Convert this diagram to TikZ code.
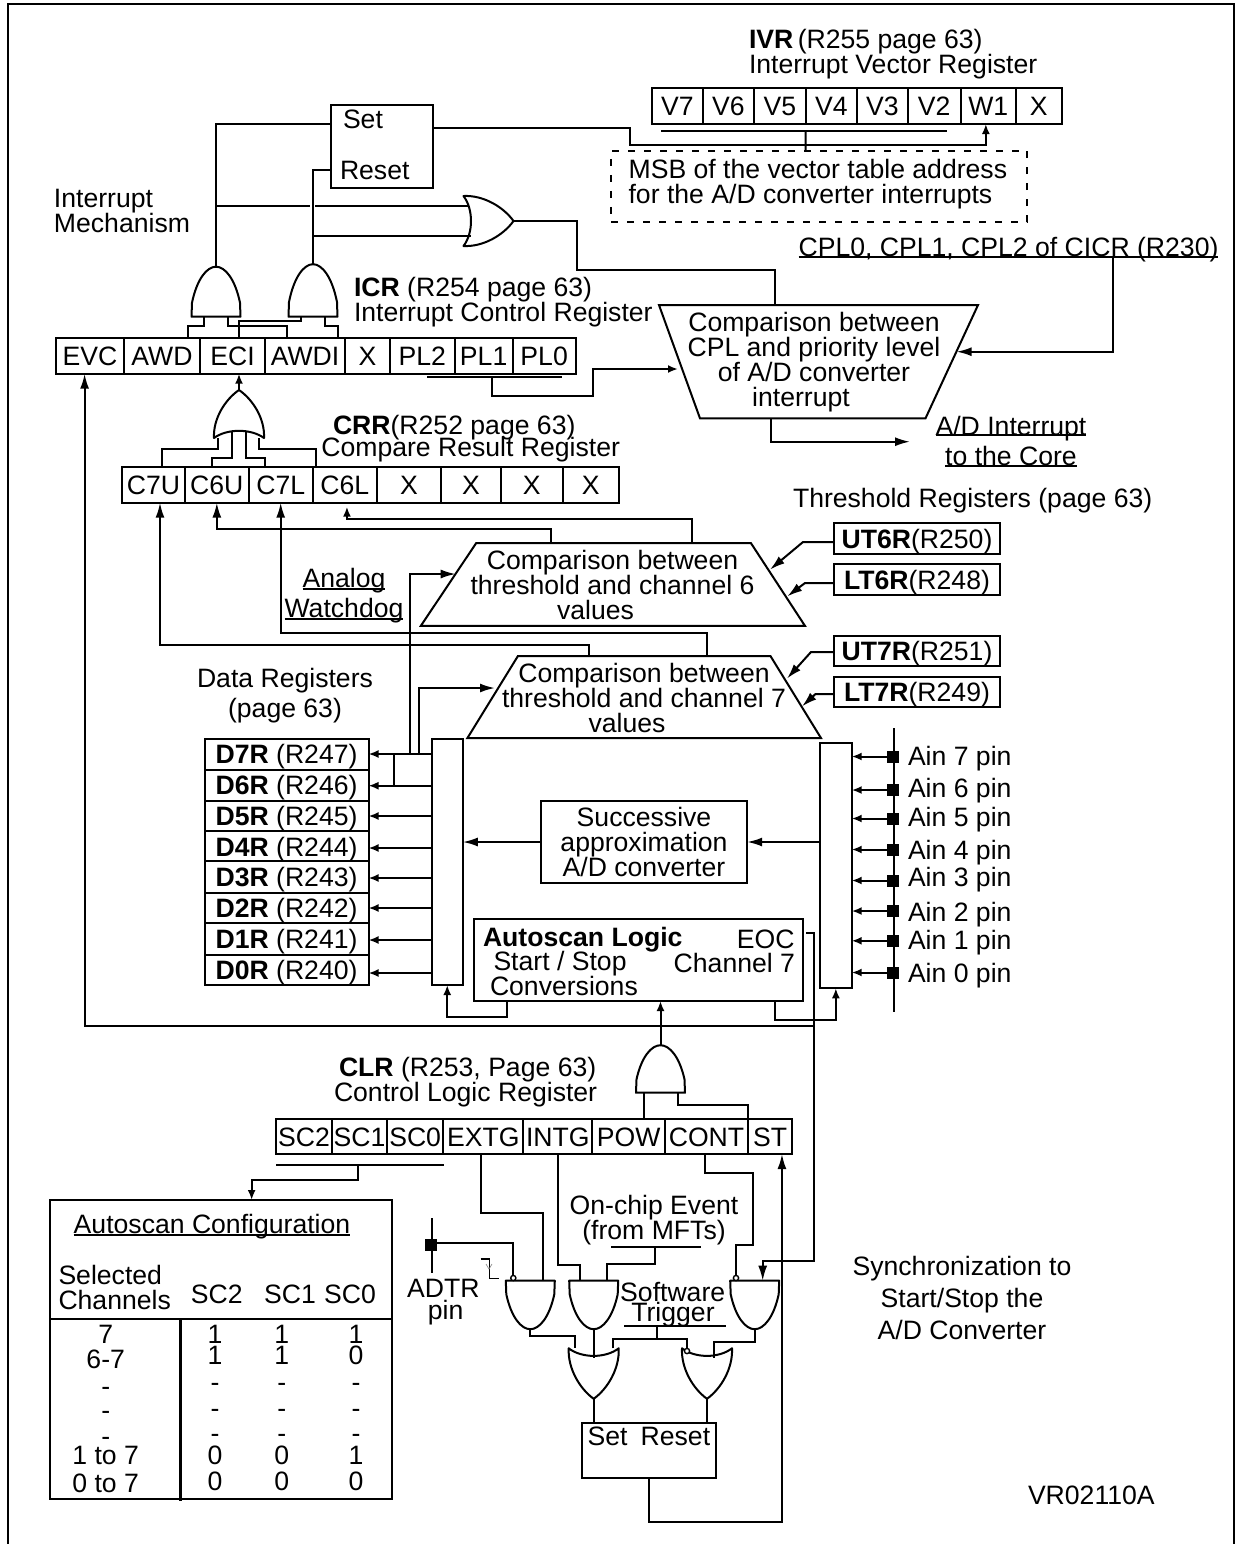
\documentclass[tikz,border=0pt]{standalone}
\usepackage{fontspec}
\setmainfont{Liberation Sans}
\usetikzlibrary{arrows.meta,positioning,calc}
\tikzset{
  wire/.style={draw,line width=1pt},
  ar/.style={wire,-{Latex[length=7.5pt,width=4.5pt]}},
  ars/.style={wire,-{Latex[length=5pt,width=4pt]}},
  lbl/.style={inner sep=0,outer sep=0,text height=9.6pt,text depth=0pt},
  mlbl/.style={inner sep=0,outer sep=0,align=left},
  regcell/.style={draw,line width=1pt,inner sep=0,outer sep=0,minimum height=18pt,text height=9.6pt,text depth=0pt},
  plainbox/.style={draw,line width=1pt,inner sep=0,outer sep=0},
  cmpbox/.style={inner sep=0,outer sep=0},
  pinsq/.style={fill=black,inner sep=0,outer sep=0,minimum size=6pt},
  bubble/.style={circle,draw,line width=.7pt,fill=white,inner sep=0,outer sep=0,minimum size=2.6pt},
  gateline/.style={line width=1pt,line join=round},
  pics/andgate/.style={code={
    \draw[gateline] (-24.5,0) -- (-24,-14) .. controls (-19,-38) and (-9,-50) .. (0,-50)
      .. controls (9,-50) and (19,-38) .. (24,-14) -- (24.5,0) -- cycle;
    \coordinate (-top) at (0,-50); \coordinate (-base) at (0,0);
    \coordinate (-l) at (-12,0); \coordinate (-r) at (12,0);}},
  pics/orgate/.style={code={
    \draw[gateline] (-25,0) .. controls (-12,-10) and (12,-10) .. (25,0)
      .. controls (26,-20) and (14,-40) .. (0,-50)
      .. controls (-14,-40) and (-26,-20) .. (-25,0) -- cycle;
    \coordinate (-top) at (0,-50); \coordinate (-base) at (0,0);}},
}
\begin{document}
\begin{tikzpicture}[x=0.5pt,y=-0.5pt,font=\fontsize{13.3}{12.5}\selectfont]
  \useasboundingbox (0,0) rectangle (1239,1544);
  \draw[line width=1.3pt] (8,1544) -- (8,4) -- (1234,4) -- (1234,1544);
  % registers
  \foreach \n/\t/\xa/\xb in {evc/EVC/55.8/124,awd/AWD/124/200,eci/ECI/200/265,awdi/AWDI/265/345,icrx/X/345/390,pl2/PL2/390/454.6,pl1/PL1/454.6/512.7,pl0/PL0/512.7/575.6}{
    \node[regcell,minimum width={(\xb-\xa)*0.5pt}](\n) at ({(\xa+\xb)/2},355.7){\t};}
  \foreach \n/\t/\xa/\xb in {v7/V7/652/703,v6/V6/703/754,v5/V5/754/806,v4/V4/806/856.6,v3/V3/856.6/908,v2/V2/908/960.5,w1/W1/960.5/1016,ivrx/X/1016/1061.6}{
    \node[regcell,minimum width={(\xb-\xa)*0.5pt}](\n) at ({(\xa+\xb)/2},106){\t};}
  \foreach \n/\t/\xa/\xb in {c7u/C7U/122/185,c6u/C6U/185/248.7,c7l/C7L/248.7/312.7,c6l/C6L/312.7/376.8,crra/X/376.8/441,crrb/X/441/501,crrc/X/501/562.5,crrd/X/562.5/619}{
    \node[regcell,minimum width={(\xb-\xa)*0.5pt}](\n) at ({(\xa+\xb)/2},484.7){\t};}
  \foreach \n/\t/\xa/\xb in {sc2/SC2/276/332,sc1/SC1/332/387,sc0/SC0/387/443.3,extg/EXTG/443.3/523.3,intg/INTG/523.3/592.3,pow/POW/592.3/665,cont/CONT/665/748,st/ST/748/792.3}{
    \node[regcell,minimum height=17.35pt,minimum width={(\xb-\xa)*0.5pt}](\n) at ({(\xa+\xb)/2},1136.7){\t};}
  \foreach \i/\r/\ya/\yb in {7/247/738.6/769.6,6/246/769.6/801,5/245/801/831.4,4/244/831.4/861.4,3/243/861.4/892.9,2/242/892.9/923,1/241/923/954.6,0/240/954.6/984.6}{
    \node[regcell,minimum width=82pt,minimum height={(\yb-\ya)*0.5pt}](d\i) at (286.5,{(\ya+\yb)/2}){\textbf{D\i R} (R\r)};}
  \foreach \n/\t/\r/\y in {ut6/UT6R/R250/538.5,lt6/LT6R/R248/579.5,ut7/UT7R/R251/651,lt7/LT7R/R249/692}{
    \node[regcell,minimum width=83pt,minimum height=15.4pt](\n) at (917,\y){\textbf{\t}(\r)};}
  % boxes
  \node[plainbox,minimum width=51pt,minimum height=41.35pt](srbox) at (381.5,146.4){};
  \node[plainbox,dashed,dash pattern=on 3.5pt off 4.5pt,minimum width=208.2pt,minimum height=35.5pt](msb) at (819.2,186.2){};
  \node[mlbl,anchor=west](msbtxt) at (628.6,184.5){MSB of the vector table address\\for the A/D converter interrupts};
  \node[cmpbox,minimum width=159.5pt,minimum height=56.65pt](cpl) at (818.5,361.7){};
  \node[cmpbox,minimum width=192pt,minimum height=41.35pt](cmp6) at (612.9,584.4){};
  \node[cmpbox,minimum width=176.75pt,minimum height=41pt](cmp7) at (644.2,697){};
  \draw[wire] (cpl.north west) -- (cpl.north east) -- ([xshift=-26.25pt]cpl.south east) -- ([xshift=20.5pt]cpl.south west) -- cycle;
  \draw[wire] ([xshift=27.65pt]cmp6.north west) -- ([xshift=-27pt]cmp6.north east) -- (cmp6.south east) -- (cmp6.south west) -- cycle;
  \draw[wire] ([xshift=25.25pt]cmp7.north west) -- ([xshift=-25.25pt]cmp7.north east) -- (cmp7.south east) -- (cmp7.south west) -- cycle;
  \node[plainbox,minimum width=15.55pt,minimum height=123.2pt](muxl) at (447.25,861.8){};
  \node[plainbox,minimum width=15.85pt,minimum height=122.75pt](muxr) at (835.85,865.5){};
  \node[plainbox,minimum width=103.15pt,minimum height=41pt,align=center](conv) at (644,842){Successive\\approximation\\A/D converter};
  \node[plainbox,minimum width=164.6pt,minimum height=41.2pt](scan) at (638.4,959.8){};
  \node[plainbox,minimum width=67.15pt,minimum height=27.2pt](setrst) at (648.85,1450.5){};
  \node[plainbox,minimum width=170.85pt,minimum height=149.5pt](tbl) at (220.85,1349.5){};
  % gates
  \pic (gset) at (216,316.7) {andgate};
  \pic[yscale=1.05] (grst) at (313,316.7) {andgate};
  \pic[rotate=-90] (gcmp) at (463.5,221) {orgate};
  \pic[yscale=.96] (gcrr) at (239,438) {orgate};
  \pic[yscale=.95] (gscan) at (660.5,1092.7) {andgate};
  \pic[yscale=-.97] (gext) at (530.3,1280.7) {andgate};
  \pic[yscale=-.97] (gint) at (593.7,1280.7) {andgate};
  \pic[yscale=-.97] (gcont) at (754.7,1280.7) {andgate};
  \pic[yscale=-1.01] (gd) at (593.7,1348.3) {orgate};
  \pic[yscale=-1.01] (ge) at (707,1348.3) {orgate};
  \node[bubble](bub1) at (513.3,1278){};
  \node[bubble](bub2) at (736,1278){};
  \node[bubble](bub3) at (687,1351){};
  % texts
  \node[mlbl,anchor=west](ivrlbl) at (749,54){\textbf{IVR}\,(R255 page 63)\\Interrupt Vector Register};
  \node[mlbl,anchor=west](intlbl) at (54,211){Interrupt\\Mechanism};
  \node[lbl,anchor=west](setlbl) at (343,119){Set};
  \node[lbl,anchor=west](rstlbl) at (340,170){Reset};
  \node[mlbl,anchor=west](icrlbl) at (354,302){\textbf{ICR} (R254 page 63)\\Interrupt Control Register};
  \node[lbl,anchor=west](crrlbl) at (333,425){\textbf{CRR}(R252 page 63)};
  \node[lbl,anchor=west](crrsub) at (321.4,447){Compare Result Register};
  \node[lbl,anchor=west](cpllbl) at (798.6,247){CPL0, CPL1, CPL2 of CICR (R230)};
  \node[lbl](adlbl) at (1011,426){A/D Interrupt};
  \node[lbl](corelbl) at (1011,456){to the Core};
  \node[lbl,anchor=west](thrlbl) at (793,498){Threshold Registers (page 63)};
  \node[mlbl,align=center](cpltxt) at (814,362.5){Comparison between\\CPL and priority level\\of A/D converter\\\hspace*{-13pt}interrupt};
  \node[mlbl,align=center](cmp6txt) at (612.5,585){Comparison between\\threshold and channel 6\\\hspace*{-17pt}values};
  \node[mlbl,align=center](cmp7txt) at (644,698){Comparison between\\threshold and channel 7\\\hspace*{-17pt}values};
  \node[lbl](anlbl) at (344,578){Analog};
  \node[lbl](wdlbl) at (344,608){Watchdog};
  \node[mlbl,align=center,font=\fontsize{13.3}{15}\selectfont](datalbl) at (285,696){Data Registers\\(page 63)};
  \node[lbl,anchor=west](autolbl) at (483,936.4){\textbf{Autoscan Logic}};
  \node[lbl,anchor=west](startlbl) at (493.5,960.7){Start / Stop};
  \node[lbl,anchor=west](convlbl) at (490,985.7){Conversions};
  \node[lbl,anchor=east](eoclbl) at (794.5,939){EOC};
  \node[lbl,anchor=east](chlbl) at (795,962.5){Channel 7};
  \node[lbl,anchor=west](clrlbl) at (339,1067){\textbf{CLR} (R253, Page 63)};
  \node[lbl,anchor=west](clrsub) at (334,1092){Control Logic Register};
  \node[mlbl,align=center](chiplbl) at (654,1220){On-chip Event\\(from MFTs)};
  \node[lbl](swlbl) at (672.7,1292.3){Software};
  \node[lbl](trlbl) at (673,1311.7){Trigger};
  \node[lbl](adtrlbl) at (443.3,1288){ADTR};
  \node[lbl](pinlbl) at (445.7,1310){pin};
  \node[mlbl,align=center,font=\fontsize{13.3}{16}\selectfont](synclbl) at (962,1298){Synchronization to\\Start/Stop the\\A/D Converter};
  \node[lbl,anchor=west](vrlbl) at (1028,1495){VR02110A};
  % autoscan table
  \node[lbl](tbltitle) at (212,1224){Autoscan Configuration};
  \node[mlbl,anchor=west](selcol) at (58.5,1287){Selected\\Channels};
  \foreach \n/\x in {SC2/216.7,SC1/290,SC0/350}{\node[lbl](hd\n) at (\x,1294){\n};}
  \foreach \t/\y [count=\k] in {7/1334,6-7/1359,-/1385.7,-/1410,-/1435.7,1 to 7/1455,0 to 7/1483}{\node[lbl](rowc\k) at (105.7,\y){\t};}
  \foreach \a/\b/\c/\y [count=\k] in {1/1/1/1334,1/1/0/1355,-/-/-/1382,-/-/-/1408,-/-/-/1433,0/0/1/1455,0/0/0/1480.7}{
    \node[lbl](ra\k) at (215,\y){\a};
    \node[lbl](rb\k) at (281.7,\y){\b};
    \node[lbl](rc\k) at (356,\y){\c};}
  \draw[wire] (tbl.west |- 0,1319) -- (tbl.east |- 0,1319);
  \draw[line width=1.4pt] (180.3,1319) -- (180.3,1501);
  % pins
  \foreach \i/\y/\ty in {7/756.5/755.5,6/790/787.5,5/818.5/816.8,4/849.5/849.5,3/880.5/877,2/911/911.5,1/940.8/939.7,0/972.5/972.4}{
    \node[pinsq](pin\i) at (893,\y){};
    \node[lbl,anchor=west](ain\i) at (908,\ty){Ain \i{} pin};
    \draw[ars] (pin\i.west) -- (muxr.east |- pin\i);}
  \coordinate (aint) at (894,728); \coordinate (ainb) at (894,1012.4);
  \draw[wire] (aint) -- (ainb);
  % data register arrows
  \foreach \i/\y in {7/754,6/785.7,5/816,4/848,3/878,2/908,1/940,0/973}{
    \draw[ars] (muxl.west |- 0,\y) -- (d\i.east |- 0,\y);}
  \coordinate (d7t) at (393.8,754); \coordinate (d6t) at (393.8,785.7);
  \draw[wire] (d7t) -- (d6t);
  \coordinate (dbus6) at (410,754); \coordinate (dbus7) at (418.6,754);
  \coordinate (c6in) at (455.7,574); \coordinate (c7in) at (495,688);
  \draw[ar] (dbus6) |- (c6in);
  \draw[ar] (dbus7) |- (c7in);
  % converter
  \draw[ar] (muxr.west |- conv.east) -- (conv.east);
  \draw[ar] (conv.west) -- (muxl.east |- conv.west);
  \draw[ars] ([xshift=-65.7pt]scan.south) -- ++(0,15.8) -| (muxl.south);
  \draw[ars] ([xshift=68.15pt]scan.south) -- ++(0,18.6) -| (muxr.south);
  \draw[ars] (gscan-top) -- (gscan-top |- scan.south);
  % thresholds
  \foreach \n/\ly/\lx/\tx/\ty in {ut6/542/803/770/569.6,lt6/583/805/787.3/596.4,ut7/652/811/787/678.6,lt7/694/815.5/802/706.4}{
    \coordinate (\n-in) at (\tx,\ty);
    \draw[ar] (\n.west |- 0,\ly) -- (\lx,\ly) -- (\n-in);}
  \draw[ar] ([xshift=-31pt]cmp6.north) -- ++(0,-14.4) -| (c6u.south);
  \draw[ars] ([xshift=39.5pt]cmp6.north) -- ++(0,-24.4) -| ([xshift=1.1pt,yshift=-2pt]c6l.south);
  \draw[ar] ([xshift=31.4pt]cmp7.north) -- ++(0,-23) -| (c7l.south);
  \draw[ar] ([xshift=-27.6pt]cmp7.north) -- ++(0,-11.4) -| ([xshift=3.25pt]c7u.south);
  \draw[wire] (anlbl.west |- 0,588.6) -- (anlbl.east |- 0,588.6);
  \draw[wire] (wdlbl.west |- 0,618.6) -- (wdlbl.east |- 0,618.6);
  % compare result gate
  \draw[wire] ([xshift=4.25pt]c7u.north) -- ++(0,-17.7) -| ([xshift=-10.5pt]gcrr-base);
  \draw[wire] ([xshift=-2.4pt]c6u.north) -- ++(0,-8.7) -| ([xshift=-3.5pt,yshift=3pt]gcrr-base);
  \draw[wire] ([xshift=-7.85pt]c7l.north) -- ++(0,-8.7) -| ([xshift=3.5pt,yshift=3pt]gcrr-base);
  \draw[wire] ([xshift=-14.6pt]c6l.north) -- ++(0,-17.7) -| ([xshift=9.8pt]gcrr-base);
  \draw[ars] (gcrr-top) -- ([xshift=3.25pt]eci.south);
  % interrupt control gates
  \draw[wire] (gset-l) -- ++(0,9.3) -| ([xshift=13pt]awd.north);
  \draw[wire] (gset-r) -- ++(0,9.3) -| ([xshift=-9pt]awdi.north);
  \draw[wire] (grst-l) -- ++(0,4) -| ([xshift=3.25pt]eci.north);
  \draw[wire] (grst-r) -- ++(0,9.3) -| ([xshift=16.3pt]awdi.north);
  \draw[wire] (srbox.west |- 0,124) -| (gset-top);
  \draw[wire] (srbox.west |- 0,170) -| (grst-top);
  \coordinate (cmpa) at ([xshift=2.75pt,yshift=7.5pt]gcmp-base);
  \coordinate (cmpb) at ([xshift=3.75pt,yshift=-7.35pt]gcmp-base);
  \draw[wire] (gset-top |- cmpa) -- ++(94,0);
  \draw[wire] (cmpa) -- ++(-154,0);
  \draw[wire] (grst-top |- cmpb) -- (cmpb);
  \draw[wire] (gcmp-top) -| (577,270) -| ([xshift=-21.75pt]cpl.north);
  % priority compare
  \coordinate (plbusl) at (427,376.7); \coordinate (plbusr) at (562,376.7);
  \draw[wire] (plbusl) -- (plbusr);
  \coordinate (plstem) at (492,376.7); \coordinate (cplin) at (678,369);
  \draw[ars] (plstem) |- (593,395.7) |- (cplin);
  \draw[wire] (cpllbl.west |- 0,257) -- (cpllbl.east |- 0,257);
  \coordinate (cplfrom) at (1113.4,257); \coordinate (cplrt) at (956.6,351.7);
  \draw[ar] (cplfrom) |- (cplrt);
  \coordinate (corein) at (910,441.7);
  \draw[ar] ([xshift=-23.75pt]cpl.south) |- (corein);
  \draw[wire] (adlbl.west |- 0,435) -- (adlbl.east |- 0,435);
  \draw[wire] (corelbl.west |- 0,466) -- (corelbl.east |- 0,466);
  % vector register
  \coordinate (ivrbusl) at (661,130.7); \coordinate (ivrbusr) at (947,130.7);
  \draw[wire] (ivrbusl) -- (ivrbusr);
  \coordinate (ivrstem) at (805.6,130.7);
  \draw[wire] (ivrstem) -- ([xshift=-6.8pt]msb.north);
  \draw[ars] ([yshift=9.35pt]srbox.east) -| (630,145) -| ([xshift=-1.2pt]w1.south);
  % end of conversion and EVC
  \coordinate (eocout) at (806,933); \coordinate (eocjoin) at (813.5,1025.7);
  \draw[ar] (eocout) -| (813.5,1260.7) -| ([xshift=4pt]gcont-base);
  \draw[ar] (eocjoin) -| ([xshift=-2.65pt]evc.south);
  % control register
  \draw[wire] ([xshift=7.7pt]pow.north) -- ([xshift=7.7pt]pow.north |- gscan-base);
  \draw[wire] ([xshift=8.6pt]gscan-base) -- ++(0,12) -| (st.north west);
  \coordinate (scbusl) at (276,1165); \coordinate (scbusr) at (444,1165);
  \draw[wire] (scbusl) -- (scbusr);
  \coordinate (scstem) at (358.3,1165);
  \draw[ars] (scstem) -- ++(0,15) -| ([xshift=15.4pt]tbl.north);
  \draw[wire] (tbltitle.west |- 0,1235.3) -- (tbltitle.east |- 0,1235.3);
  \draw[wire] ([xshift=-1.15pt]extg.south) -- ++(0,59) -| ([xshift=6.5pt]gext-base);
  \draw[wire] (intg.south) -- ++(0,110.7) -| ([xshift=-6.85pt]gint-base);
  \coordinate (mftl) at (611,1246.7); \coordinate (mftr) at (701,1246.7);
  \draw[wire] (mftl) -- (mftr);
  \coordinate (mftstem) at (655,1246.7);
  \draw[wire] (mftstem) -- ++(0,17.3) -| ([xshift=6.8pt]gint-base);
  \draw[wire] ([xshift=-.75pt]cont.south) -- ++(0,18.7) -| (753.3,1245) -| (bub2.north);
  % ADTR pin
  \coordinate (adtrt) at (432,1218.3); \coordinate (adtrb) at (432,1273);
  \draw[wire] (adtrt) -- (adtrb);
  \node[pinsq](adtr) at (431.3,1245){};
  \draw[wire] ([yshift=1.15pt]adtr.east) -| (bub1.north);
  \draw[line width=.7pt] (480.7,1259) -- (489.3,1259) -- (489.3,1278.3) -- (499,1278.3);
  \draw[line width=.3pt,gray] (486,1264) -- (489,1269) -- (492,1264);
  % set reset logic
  \draw[wire] (gext-top) -- ++(0,7) -| ([xshift=-9.35pt]gd-base);
  \draw[wire] (gint-top) -- ([yshift=-5pt]gd-base);
  \draw[wire] (gcont-top) -- ++(0,12.5) -| ([xshift=3.5pt,yshift=-5pt]ge-base);
  \coordinate (swl) at (624,1325.7); \coordinate (swr) at (725.7,1325.7);
  \draw[wire] (swl) -- (swr);
  \coordinate (swstem) at (656.7,1325.7); \coordinate (swjoin) at (656.7,1339.3);
  \draw[wire] (swstem) -- (swjoin);
  \draw[wire] ([xshift=9.8pt]gd-base) -- ++(0,-9) -| (bub3.north);
  \draw[wire] (gd-top) -- (gd-top |- setrst.north);
  \draw[wire] (ge-top) -- (ge-top |- setrst.north);
  \node[lbl,anchor=west](setsr) at (587.7,1436){Set};
  \node[lbl,anchor=west](rstsr) at (640.7,1436){Reset};
  \draw[ar] (setrst.south) -- ++(0,44.2) -| ([xshift=5.9pt]st.south);
\end{tikzpicture}
\end{document}
